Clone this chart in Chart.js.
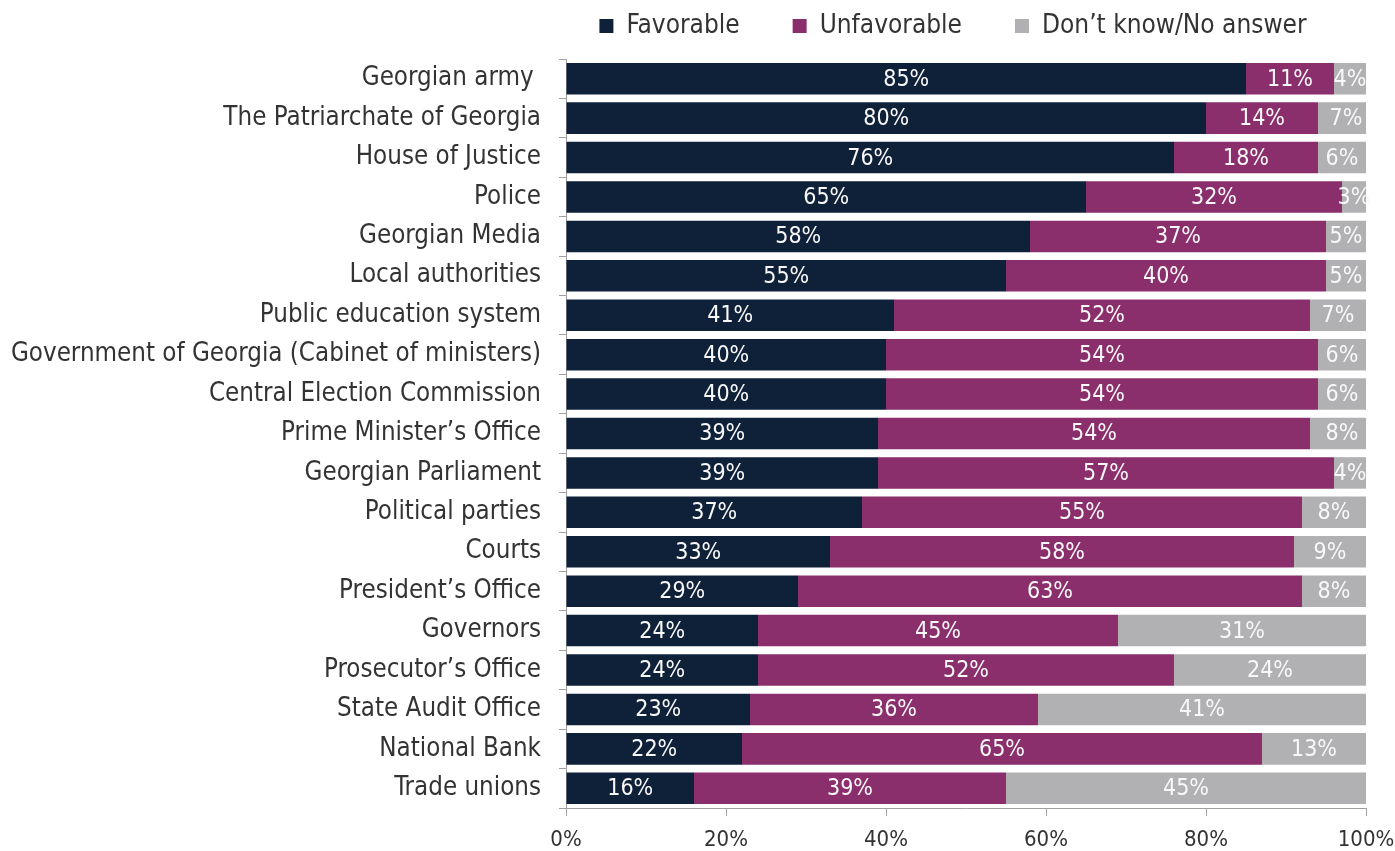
<!DOCTYPE html>
<html>
<head>
<meta charset="utf-8">
<script src="https://cdn.jsdelivr.net/npm/chart.js@4.4.0/dist/chart.umd.min.js"></script>
<style>
  html, body { margin: 0; padding: 0; background: #fff; }
  #wrap { width: 1395px; height: 851px; }
</style>
</head>
<body>
<div id="wrap"><canvas id="myChart" width="1395" height="851"></canvas></div>
<script>
const labels = ["Georgian army ", "The Patriarchate of Georgia", "House of Justice", "Police",
  "Georgian Media", "Local authorities", "Public education system",
  "Government of Georgia (Cabinet of ministers)", "Central Election Commission",
  "Prime Minister\u2019s Office", "Georgian Parliament", "Political parties", "Courts",
  "President\u2019s Office", "Governors", "Prosecutor\u2019s Office", "State Audit Office",
  "National Bank", "Trade unions"];

const favorable   = [85, 80, 76, 65, 58, 55, 41, 40, 40, 39, 39, 37, 33, 29, 24, 24, 23, 22, 16];
const unfavorable = [11, 14, 18, 32, 37, 40, 52, 54, 54, 54, 57, 55, 58, 63, 45, 52, 36, 65, 39];
const dontKnow    = [4, 7, 6, 3, 5, 5, 7, 6, 6, 8, 4, 8, 9, 8, 31, 24, 41, 13, 45];

const xTicks = [0, 20, 40, 60, 80, 100];

const FONT = '"DejaVu Sans Condensed", "DejaVu Sans", sans-serif';
const LEGEND_PAD = 53;

// white % labels in the middle of every segment
const barLabels = {
  id: 'barLabels',
  afterDatasetsDraw(chart) {
    const ctx = chart.ctx;
    ctx.save();
    ctx.font = '23px ' + FONT;
    ctx.fillStyle = '#f8f8f8';
    ctx.textAlign = 'center';
    ctx.textBaseline = 'middle';
    chart.data.datasets.forEach((ds, i) => {
      chart.getDatasetMeta(i).data.forEach((bar, j) => {
        const p = bar.getProps(['x', 'y', 'base'], true);
        ctx.fillText(ds.data[j] + '%', (p.x + p.base) / 2, p.y + 1);
      });
    });
    ctx.restore();
  }
};

// legend: wide gaps between items on one row, drawn close to the top
const legendFix = {
  id: 'legendFix',
  beforeInit(chart) {
    const lg = chart.legend;
    const fit = lg.fit;
    lg.fit = function () {
      this.maxWidth = 3000;
      fit.call(this);
      this.height = 59;
    };
    const draw = lg.draw;
    lg.draw = function () {
      const t = this.top, l = this.left, r = this.right;
      this.top = t - 40;
      this.left = l - 126;
      this.right = r + 100;
      draw.apply(this, arguments);
      this.top = t;
      this.left = l;
      this.right = r;
    };
  }
};

Chart.defaults.font.family = FONT;
Chart.defaults.font.size = 26;
Chart.defaults.color = '#333333';

new Chart(document.getElementById('myChart'), {
  type: 'bar',
  data: {
    labels: labels,
    datasets: [
      { label: 'Favorable', data: favorable, backgroundColor: '#0f2139' },
      { label: 'Unfavorable', data: unfavorable, backgroundColor: '#8b2e6c' },
      { label: 'Don\u2019t know/No answer', data: dontKnow, backgroundColor: '#b1b1b3' }
    ]
  },
  options: {
    indexAxis: 'y',
    responsive: false,
    animation: false,
    layout: { padding: { top: 0, right: 29, left: 6, bottom: 0 } },
    datasets: { bar: { barPercentage: 0.8, categoryPercentage: 1 } },
    scales: {
      x: {
        stacked: true,
        min: 0, max: 100,
        afterBuildTicks(axis) { axis.ticks = xTicks.map(v => ({ value: v })); },
        afterFit(axis) {
          axis.height = 43;
          axis.paddingLeft = 0;
          axis.paddingRight = 0;
        },
        grid: { drawOnChartArea: false, tickLength: 8, color: '#a0a0a0' },
        border: { color: '#a0a0a0' },
        ticks: { callback: v => v + '%', padding: 11, font: { size: 22 } }
      },
      y: {
        stacked: true,
        afterFit(axis) { axis.width = 560; },
        grid: { drawOnChartArea: false, offset: true, tickLength: 7, color: '#a0a0a0' },
        border: { color: '#a0a0a0' },
        ticks: { padding: 18, font: { size: 25.7 } }
      }
    },
    plugins: {
      legend: {
        position: 'top',
        fullSize: false,
        labels: { boxWidth: 14, boxHeight: 14, padding: LEGEND_PAD, font: { size: 26 } }
      },
      tooltip: { enabled: false }
    }
  },
  plugins: [barLabels, legendFix]
});
</script>
</body>
</html>
